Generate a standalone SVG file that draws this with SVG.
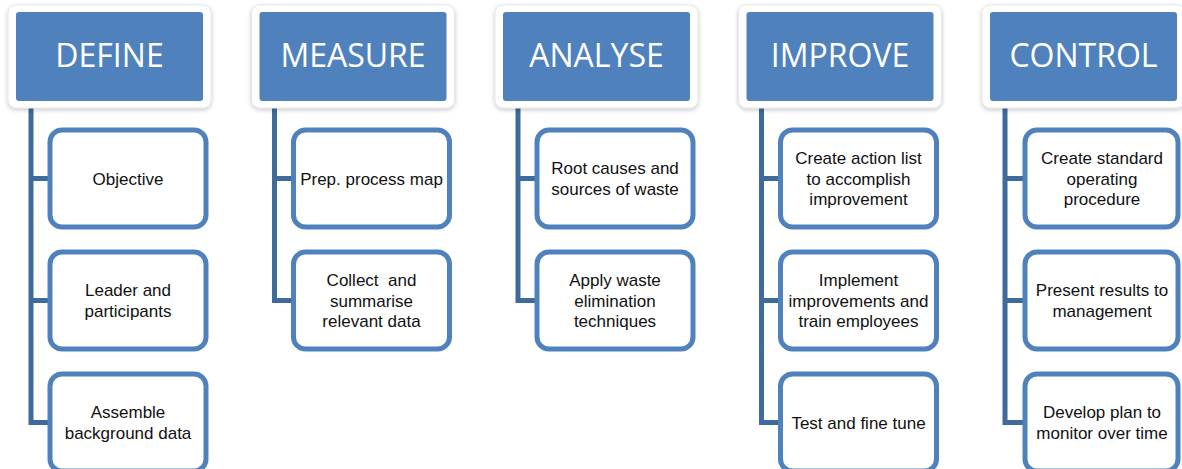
<svg xmlns="http://www.w3.org/2000/svg" width="1182" height="469" viewBox="0 0 1182 469">
<defs>
<filter id="sh" x="-10%" y="-10%" width="120%" height="125%">
<feDropShadow dx="0" dy="1.5" stdDeviation="2" flood-color="#000" flood-opacity="0.22"/>
</filter>
</defs>
<style>
.frame{fill:#fff;stroke:#e6e6e6;stroke-width:1;filter:url(#sh)}
.hdr{fill:#4F81BD}
.htxt{font-family:"Open Sans","Liberation Sans",sans-serif;font-size:32px;fill:#fff;text-anchor:middle}
.box{fill:#fff;stroke:#4F81BD;stroke-width:5}
.txt{font-family:"Liberation Sans",Arial,sans-serif;font-size:17px;fill:#111;text-anchor:middle}
.con{fill:none;stroke:#3E6A9C;stroke-width:5;stroke-linejoin:miter}
</style>
<rect width="1182" height="469" fill="#fff"/>
<g id="connectors">
<path class="con" d="M31 105 V422.5 H49 M31 178.5 H49 M31 300.5 H49"/>
<path class="con" d="M274.5 105 V300.5 H292.5 M274.5 178.5 H292.5"/>
<path class="con" d="M518 105 V300.5 H536 M518 178.5 H536"/>
<path class="con" d="M761.5 105 V422.5 H779.5 M761.5 178.5 H779.5 M761.5 300.5 H779.5"/>
<path class="con" d="M1005 105 V422.5 H1023 M1005 178.5 H1023 M1005 300.5 H1023"/>
</g>
<g id="define">
<rect class="frame" x="8" y="5" width="203" height="103" rx="8"/>
<rect class="hdr" x="16" y="12" width="187" height="89" rx="3"/>
<text class="htxt" x="109.5" y="67">DEFINE</text>
</g>
<g id="define-1"><rect class="box" x="50" y="130" width="156" height="97" rx="12"/><text class="txt" x="128" y="184.5">Objective</text></g>
<g id="define-2"><rect class="box" x="50" y="252" width="156" height="97" rx="12"/><text class="txt" x="128" y="296">Leader and</text><text class="txt" x="128" y="316.5">participants</text></g>
<g id="define-3"><rect class="box" x="50" y="374" width="156" height="97" rx="12"/><text class="txt" x="128" y="418">Assemble</text><text class="txt" x="128" y="438.5">background data</text></g>

<g id="measure">
<rect class="frame" x="251.5" y="5" width="203" height="103" rx="8"/>
<rect class="hdr" x="259.5" y="12" width="187" height="89" rx="3"/>
<text class="htxt" x="353" y="67">MEASURE</text>
</g>
<g id="measure-1"><rect class="box" x="293.5" y="130" width="156" height="97" rx="12"/><text class="txt" x="371.5" y="184.5">Prep. process map</text></g>
<g id="measure-2"><rect class="box" x="293.5" y="252" width="156" height="97" rx="12"/><text class="txt" x="371.5" y="286" xml:space="preserve">Collect  and</text><text class="txt" x="371.5" y="306.5">summarise</text><text class="txt" x="371.5" y="327">relevant data</text></g>

<g id="analyse">
<rect class="frame" x="495" y="5" width="203" height="103" rx="8"/>
<rect class="hdr" x="503" y="12" width="187" height="89" rx="3"/>
<text class="htxt" x="596.5" y="67">ANALYSE</text>
</g>
<g id="analyse-1"><rect class="box" x="537" y="130" width="156" height="97" rx="12"/><text class="txt" x="615" y="174">Root causes and</text><text class="txt" x="615" y="194.5">sources of waste</text></g>
<g id="analyse-2"><rect class="box" x="537" y="252" width="156" height="97" rx="12"/><text class="txt" x="615" y="286">Apply waste</text><text class="txt" x="615" y="306.5">elimination</text><text class="txt" x="615" y="327">techniques</text></g>

<g id="improve">
<rect class="frame" x="738.5" y="5" width="203" height="103" rx="8"/>
<rect class="hdr" x="746.5" y="12" width="187" height="89" rx="3"/>
<text class="htxt" x="840" y="67">IMPROVE</text>
</g>
<g id="improve-1"><rect class="box" x="780.5" y="130" width="156" height="97" rx="12"/><text class="txt" x="858.5" y="164">Create action list</text><text class="txt" x="858.5" y="184.5">to accomplish</text><text class="txt" x="858.5" y="205">improvement</text></g>
<g id="improve-2"><rect class="box" x="780.5" y="252" width="156" height="97" rx="12"/><text class="txt" x="858.5" y="286">Implement</text><text class="txt" x="858.5" y="306.5">improvements and</text><text class="txt" x="858.5" y="327">train employees</text></g>
<g id="improve-3"><rect class="box" x="780.5" y="374" width="156" height="97" rx="12"/><text class="txt" x="858.5" y="428.5">Test and fine tune</text></g>

<g id="control">
<rect class="frame" x="982" y="5" width="203" height="103" rx="8"/>
<rect class="hdr" x="990" y="12" width="187" height="89" rx="3"/>
<text class="htxt" x="1083.5" y="67">CONTROL</text>
</g>
<g id="control-1"><rect class="box" x="1025" y="130" width="153" height="97" rx="12"/><text class="txt" x="1102" y="164">Create standard</text><text class="txt" x="1102" y="184.5">operating</text><text class="txt" x="1102" y="205">procedure</text></g>
<g id="control-2"><rect class="box" x="1025" y="252" width="153" height="97" rx="12"/><text class="txt" x="1102" y="296">Present results to</text><text class="txt" x="1102" y="316.5">management</text></g>
<g id="control-3"><rect class="box" x="1025" y="374" width="153" height="97" rx="12"/><text class="txt" x="1102" y="418">Develop plan to</text><text class="txt" x="1102" y="438.5">monitor over time</text></g>
</svg>
